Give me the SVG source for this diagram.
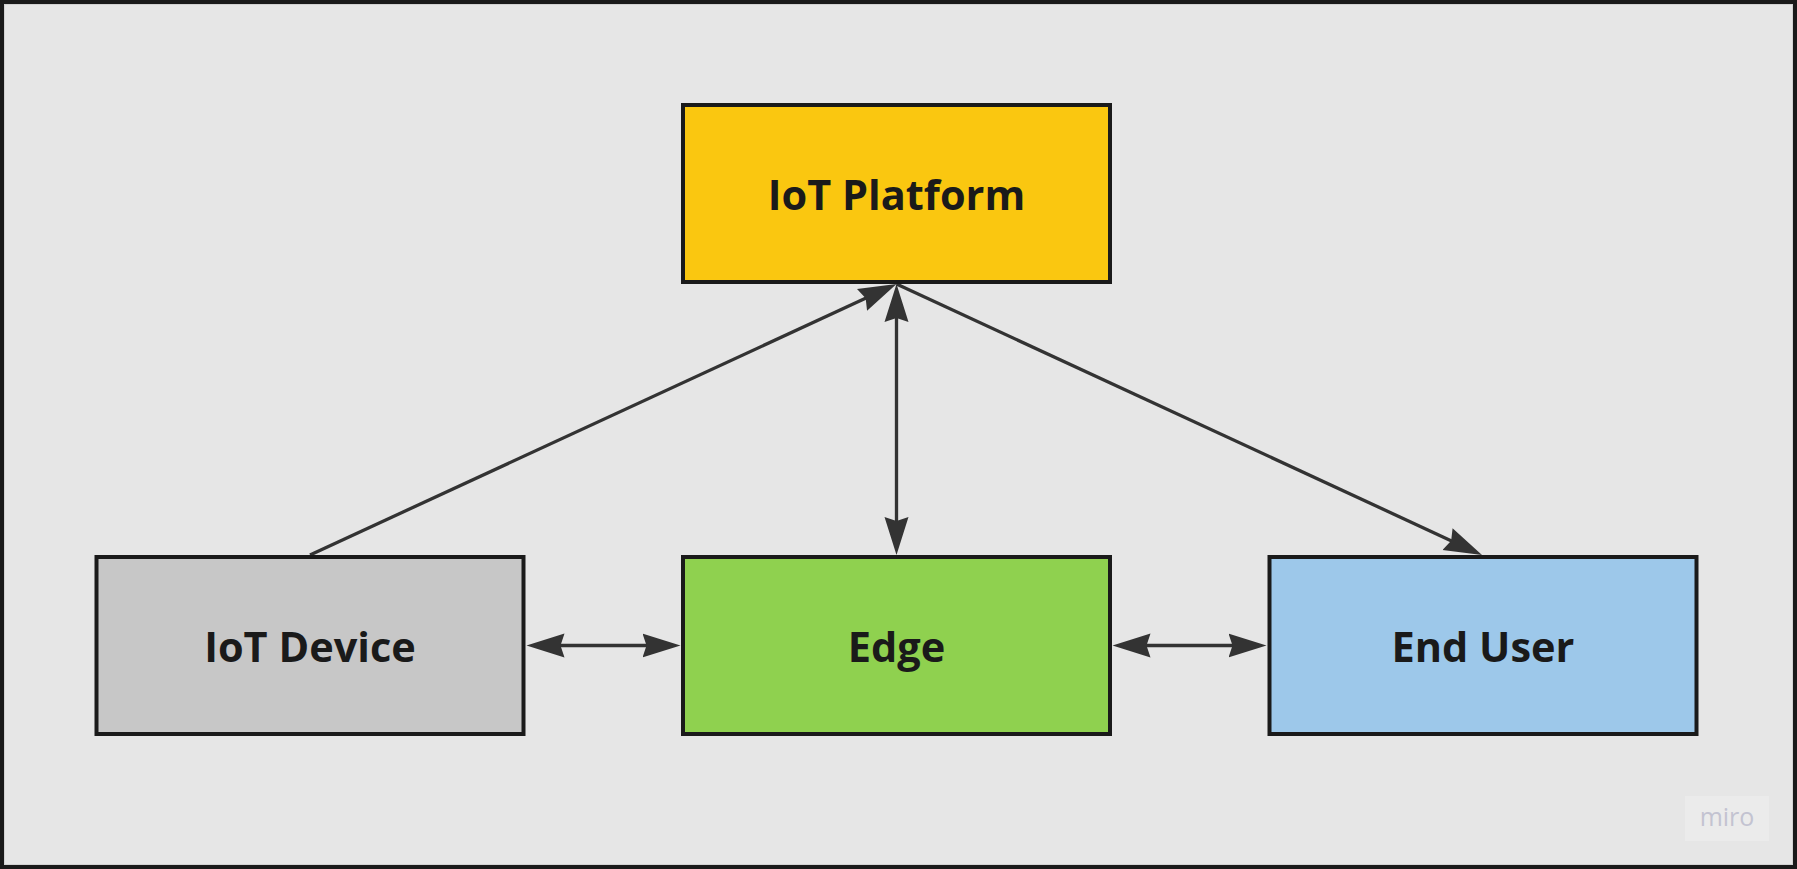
<svg xmlns="http://www.w3.org/2000/svg" width="1797" height="869" viewBox="0 0 1797 869">
  <style>
    .box { stroke: #1a1a1a; stroke-width: 4; }
    .label { font-family: "Open Sans", "Noto Sans", "Liberation Sans", sans-serif; font-weight: bold; font-size: 41.5px; fill: #1a1a1a; text-anchor: middle; }
    .conn { stroke: #333333; stroke-width: 3.3; fill: none; }
  </style>
  <defs>
    <marker id="arr" markerUnits="userSpaceOnUse" markerWidth="40" markerHeight="28" viewBox="0 -14 40 28" refX="8" refY="0" orient="auto-start-reverse">
      <path d="M38,0 L0,-12 L4,0 L0,12 Z" fill="#333333"/>
    </marker>
  </defs>
  <rect x="2" y="2" width="1793" height="865" fill="#e6e6e6" stroke="#1a1a1a" stroke-width="4"/>
  <rect x="4.5" y="4.5" width="1788" height="860" fill="none" stroke="#d2d2d2" stroke-width="1"/>

  <g id="connectors">
    <line class="conn" x1="310" y1="555" x2="869.3" y2="296.6" marker-end="url(#arr)"/>
    <line class="conn" x1="896.5" y1="284" x2="1454.8" y2="542.4" marker-end="url(#arr)"/>
    <line class="conn" x1="896.5" y1="314" x2="896.5" y2="525" marker-start="url(#arr)" marker-end="url(#arr)"/>
    <line class="conn" x1="556.5" y1="645.5" x2="650.5" y2="645.5" marker-start="url(#arr)" marker-end="url(#arr)"/>
    <line class="conn" x1="1142.5" y1="645.5" x2="1236.5" y2="645.5" marker-start="url(#arr)" marker-end="url(#arr)"/>
  </g>

  <g id="iot-platform">
    <rect class="box" x="683" y="105" width="427" height="177" fill="#fac710"/>
    <text class="label" x="896.5" y="210">IoT Platform</text>
  </g>
  <g id="iot-device">
    <rect class="box" x="96.5" y="557" width="427" height="177" fill="#c7c7c7"/>
    <text class="label" x="310" y="662">IoT Device</text>
  </g>
  <g id="edge">
    <rect class="box" x="683" y="557" width="427" height="177" fill="#8fd14f"/>
    <text class="label" x="896.5" y="662">Edge</text>
  </g>
  <g id="end-user">
    <rect class="box" x="1269.5" y="557" width="427" height="177" fill="#9dc8ea"/>
    <text class="label" x="1483" y="662">End User</text>
  </g>

  <g id="miro-logo">
    <rect x="1685" y="796" width="84" height="45" fill="#ebebeb"/>
    <text x="1727" y="826" font-family="'Open Sans', 'Noto Sans', sans-serif" font-size="25" font-weight="normal" fill="#c3c3d1" text-anchor="middle">miro</text>
  </g>
</svg>
